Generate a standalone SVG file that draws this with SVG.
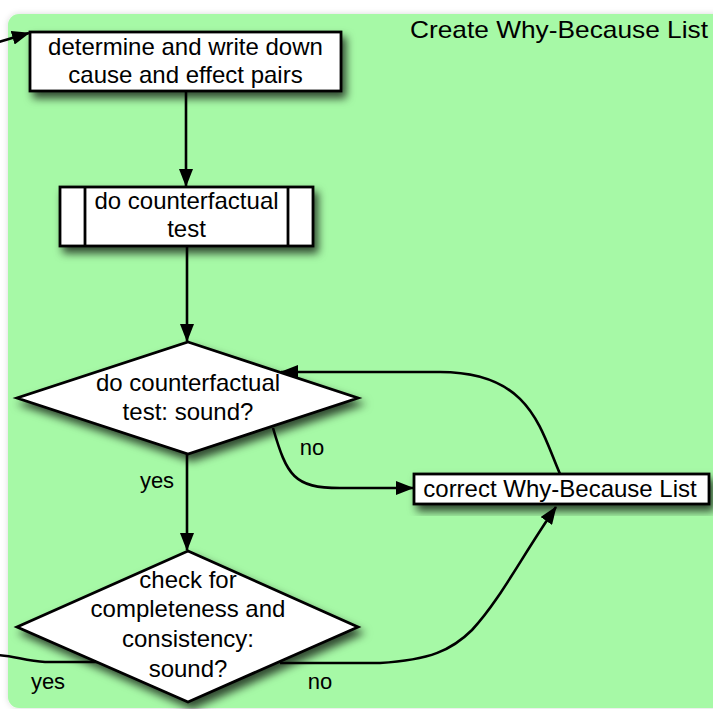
<svg xmlns="http://www.w3.org/2000/svg" width="713" height="709" viewBox="0 0 713 709">
<defs>
<style>
text{font-family:"Liberation Sans",Arial,Helvetica,sans-serif;font-size:24px;fill:#000}
.lbl{font-size:22px}
.node{fill:#fff;stroke:#000;stroke-width:2.8}
.conn{fill:none;stroke:#000;stroke-width:2.6}
</style>
<filter id="sh" x="-20%" y="-20%" width="150%" height="160%">
<feDropShadow dx="4" dy="6" stdDeviation="4.5" flood-color="#000" flood-opacity="0.7"/>
</filter>
<filter id="psh" x="-5%" y="-5%" width="110%" height="110%">
<feDropShadow dx="0" dy="0" stdDeviation="3" flood-color="#000" flood-opacity="0.15"/>
</filter>
<marker id="ah" viewBox="0 0 18 14" refX="17" refY="7" markerWidth="18" markerHeight="14" markerUnits="userSpaceOnUse" orient="auto">
<path d="M0,0 L18,7 L0,14 z" fill="#000"/>
</marker>
</defs>
<rect width="713" height="709" fill="#fff"/>
<g id="panel">
<rect x="8" y="14" width="730" height="694" rx="11" ry="11" fill="#a6f9a6" filter="url(#psh)"/>
<text x="410" y="38" textLength="298" lengthAdjust="spacingAndGlyphs">Create Why-Because List</text>
</g>
<g id="connectors">
<path class="conn" d="M186 91 L186 186" marker-end="url(#ah)"/>
<path class="conn" d="M187 246 L187 341" marker-end="url(#ah)"/>
<path class="conn" d="M187 454 L187 550" marker-end="url(#ah)"/>
<path class="conn" d="M273 428 C 287 476, 294 488, 340 488 L413 488" marker-end="url(#ah)"/>
<path class="conn" d="M560 474 C 540 428, 530 372, 440 372 L281 372" marker-end="url(#ah)"/>
<path class="conn" d="M280 663 L380 663 C 430 660, 452 650, 472 630 C 500 600, 522 556, 556 507" marker-end="url(#ah)"/>
<path class="conn" d="M100 662 L45 662 C 25 661, 12 655, -5 655 C -60 655, -60 43, -5 43 L29 33" marker-end="url(#ah)"/>
<text class="lbl" x="157" y="488" text-anchor="middle">yes</text>
<text class="lbl" x="312" y="455" text-anchor="middle">no</text>
<text class="lbl" x="48" y="689" text-anchor="middle">yes</text>
<text class="lbl" x="320" y="689" text-anchor="middle">no</text>
</g>
<g id="node-determine">
<rect class="node" x="30" y="32" width="311" height="59" filter="url(#sh)"/>
<text x="185.5" y="55" text-anchor="middle">determine and write down</text>
<text x="185.5" y="83" text-anchor="middle">cause and effect pairs</text>
</g>
<g id="node-counterfactual">
<rect class="node" x="60" y="187" width="253" height="59" filter="url(#sh)"/>
<line x1="85" y1="187" x2="85" y2="246" stroke="#000" stroke-width="2.8"/>
<line x1="288" y1="187" x2="288" y2="246" stroke="#000" stroke-width="2.8"/>
<text x="186.5" y="209" text-anchor="middle">do counterfactual</text>
<text x="186.5" y="237" text-anchor="middle">test</text>
</g>
<g id="node-sound1">
<polygon class="node" points="188,342 358,398 188,454 17,398" filter="url(#sh)"/>
<text x="188" y="391" text-anchor="middle">do counterfactual</text>
<text x="188" y="420" text-anchor="middle">test: sound?</text>
</g>
<g id="node-correct">
<rect class="node" x="414" y="474" width="295" height="30" filter="url(#sh)"/>
<text x="560" y="497" text-anchor="middle">correct Why-Because List</text>
</g>
<g id="node-sound2">
<polygon class="node" points="188,551 358,627 188,702 17,627" filter="url(#sh)"/>
<text x="188" y="588" text-anchor="middle">check for</text>
<text x="188" y="617" text-anchor="middle">completeness and</text>
<text x="188" y="647" text-anchor="middle">consistency:</text>
<text x="188" y="677" text-anchor="middle">sound?</text>
</g>
</svg>
